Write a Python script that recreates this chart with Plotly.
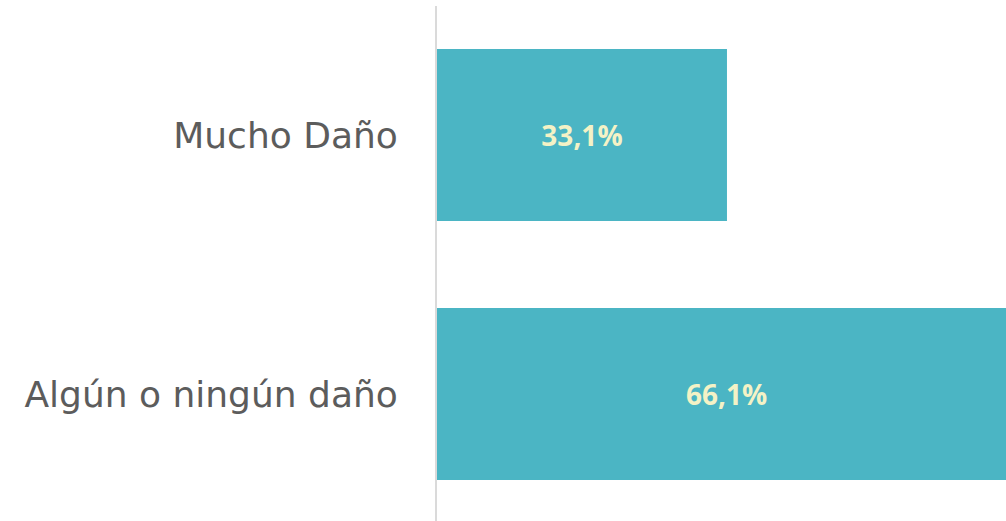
import plotly.graph_objects as go

categories = ["Algún o ningún daño", "Mucho Daño"]
values = [66.1, 33.1]

bar_color = "#4BB5C4"
label_color = "#F4F2C6"

fig = go.Figure(go.Bar(
    y=categories,
    x=values,
    orientation="h",
    marker=dict(color=bar_color, line=dict(width=0)),
    width=0.664,
    texttemplate="%{x:.1f}%",
    textposition="inside",
    insidetextanchor="middle",
    textfont=dict(family="Open Sans", size=28, color=label_color, weight="bold"),
    hoverinfo="skip",
))

fig.update_layout(
    width=1006,
    height=521,
    margin=dict(l=437, r=0, t=6, b=0),
    paper_bgcolor="white",
    plot_bgcolor="white",
    separators=",.",
    showlegend=False,
)
fig.update_xaxes(range=[0, 64.95], visible=False, fixedrange=True)
fig.update_yaxes(
    range=[-0.490, 1.498],
    showline=True,
    linecolor="#DADADA",
    linewidth=2,
    showgrid=False,
    zeroline=False,
    ticks="",
    ticklabelstandoff=30,
    tickfont=dict(family="DejaVu Sans", size=36, color="#5C5C5C"),
    fixedrange=True,
)

fig.write_html(
    "out.html",
    config={"displayModeBar": False},
    post_script="document.body.style.margin='0';document.body.style.overflow='hidden';",
)
